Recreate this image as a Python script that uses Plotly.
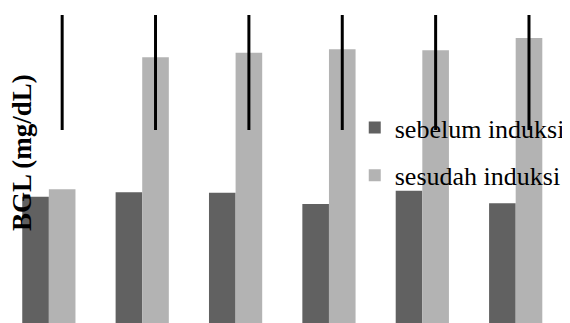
import plotly.graph_objects as go

# Data
groups = ["1", "2", "3", "4", "5", "6"]
sebelum = [101.0, 104.6, 104.2, 95.2, 105.8, 95.8]
sesudah = [107.0, 212.6, 216.2, 219.0, 218.2, 228.0]
line_low = [154.4, 154.4, 154.4, 154.4, 154.4, 154.4]
line_high = [246.4, 246.4, 246.4, 246.4, 246.4, 246.4]

series_names = ["sebelum induksi", "sesudah induksi"]
y_title = "BGL (mg/dL)"

bargap = 0.43
idx = list(range(len(groups)))
offset = (1 - bargap) / 4  # center of the second bar in each group

fig = go.Figure()
fig.add_bar(x=idx, y=sebelum, name=series_names[0], marker=dict(color="#616161", line=dict(width=0)),
            legendgroup="a")
fig.add_bar(x=idx, y=sesudah, name=series_names[1], marker=dict(color="#b3b3b3", line=dict(width=0)),
            legendgroup="b")

lx, ly = [], []
for i, lo, hi in zip(idx, line_low, line_high):
    lx += [i + offset, i + offset, None]
    ly += [lo, hi, None]
fig.add_scatter(x=lx, y=ly, mode="lines", line=dict(color="black", width=3),
                showlegend=False, hoverinfo="skip")

W, H = 562, 315
PW = 556
fig.update_layout(
    width=W, height=H,
    margin=dict(l=0, r=W - PW, t=0, b=0),
    paper_bgcolor="white", plot_bgcolor="white",
    barmode="group", bargap=bargap, bargroupgap=0,
    showlegend=True,
    legend=dict(
        x=348 / PW, xanchor="left",
        y=1 - 96 / H, yanchor="top",
        font=dict(family="Liberation Serif", size=26, color="black"),
        bgcolor="rgba(0,0,0,0)",
        tracegroupgap=11,
        traceorder="grouped",
    ),
    xaxis=dict(range=[-0.4376, 5.496], showticklabels=False, showgrid=False, zeroline=False,
               showline=False, ticks="", tickvals=idx, ticktext=groups),
    yaxis=dict(range=[0, 252], showticklabels=False, showgrid=False, zeroline=False,
               showline=False, ticks=""),
    annotations=[dict(
        text=y_title, textangle=-90, xref="paper", yref="paper",
        x=14 / PW, y=1 - 144 / H, xanchor="center", yanchor="middle",
        showarrow=False,
        font=dict(family="Liberation Serif", size=27, color="black", weight="bold"),
    )],
)

fig.write_html("out.html")
